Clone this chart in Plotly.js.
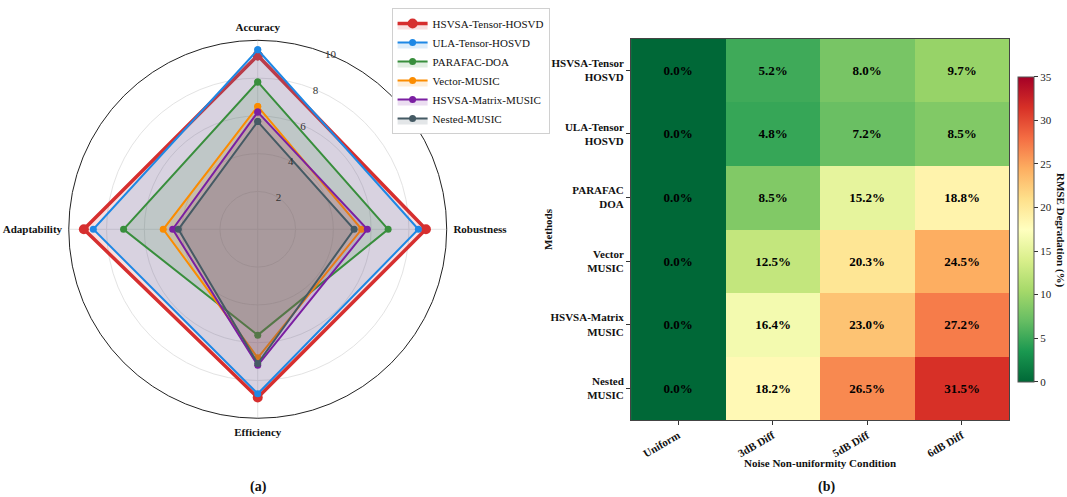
<!DOCTYPE html>
<html>
<head>
<meta charset="utf-8">
<script src="https://cdn.plot.ly/plotly-3.0.1.min.js"></script>
<style>
  html, body { margin: 0; padding: 0; background: #fff; }
  #chart { width: 1067px; height: 497px; }
</style>
</head>
<body>
<div id="chart"></div>
<script>
// Radar chart: performance scores per method on four criteria
const criteria = ['Accuracy', 'Robustness', 'Efficiency', 'Adaptability'];
const methods = ['HSVSA-Tensor-HOSVD', 'ULA-Tensor-HOSVD', 'PARAFAC-DOA', 'Vector-MUSIC', 'HSVSA-Matrix-MUSIC', 'Nested-MUSIC'];
const hsvsaTensorScores = [9.2, 8.9, 8.9, 9.2];
const ulaTensorScores = [9.5, 8.5, 8.7, 8.7];
const parafacScores = [7.8, 6.9, 5.6, 7.1];
const vectorMusicScores = [6.5, 5.5, 6.8, 5.0];
const hsvsaMatrixScores = [6.2, 5.8, 7.2, 4.5];
const nestedMusicScores = [5.7, 5.1, 7.1, 4.2];
const radialTicks = [2, 4, 6, 8, 10];

// Heatmap: RMSE degradation (%) under non-uniform noise
const conditions = ['Uniform', '3dB Diff', '5dB Diff', '6dB Diff'];
const methodLabels = ['HSVSA-Tensor<br>HOSVD', 'ULA-Tensor<br>HOSVD', 'PARAFAC<br>DOA', 'Vector<br>MUSIC', 'HSVSA-Matrix<br>MUSIC', 'Nested<br>MUSIC'];
const degradation = [
  [0.0, 5.2, 8.0, 9.7],
  [0.0, 4.8, 7.2, 8.5],
  [0.0, 8.5, 15.2, 18.8],
  [0.0, 12.5, 20.3, 24.5],
  [0.0, 16.4, 23.0, 27.2],
  [0.0, 18.2, 26.5, 31.5]
];
const colorbarTicks = [0, 5, 10, 15, 20, 25, 30, 35];

const SERIF = 'Liberation Serif, Times New Roman, serif';
const colors = ['#d62f2f', '#1e88e5', '#388e3c', '#fb8c00', '#7b1fa2', '#455a64'];
const fills = ['rgba(214,47,47,0.15)', 'rgba(30,136,229,0.15)', 'rgba(56,142,60,0.15)',
               'rgba(251,140,0,0.15)', 'rgba(123,31,162,0.15)', 'rgba(69,90,100,0.15)'];
const scoreSets = [hsvsaTensorScores, ulaTensorScores, parafacScores, vectorMusicScores, hsvsaMatrixScores, nestedMusicScores];

const closeLoop = arr => arr.concat([arr[0]]);

const traces = methods.map((name, i) => {
  const lead = i === 0;
  return {
    type: 'scatterpolar',
    r: closeLoop(scoreSets[i]),
    theta: closeLoop(criteria),
    name: name,
    mode: 'lines+markers',
    fill: 'toself',
    fillcolor: fills[i],
    line: { color: colors[i], width: lead ? 3.5 : 2 },
    marker: { color: colors[i], size: lead ? 10 : 7 }
  };
});

// RdYlGn reversed
const rdYlGnR = [
  [0.0, '#006837'], [0.1, '#1a9850'], [0.2, '#66bd63'], [0.3, '#a6d96a'],
  [0.4, '#d9ef8b'], [0.5, '#ffffbf'], [0.6, '#fee08b'], [0.7, '#fdae61'],
  [0.8, '#f46d43'], [0.9, '#d73027'], [1.0, '#a50026']
];

traces.push({
  type: 'heatmap',
  x: conditions,
  y: methodLabels,
  z: degradation,
  xaxis: 'x',
  yaxis: 'y',
  zmin: 0,
  zmax: 35,
  colorscale: rdYlGnR,
  showlegend: false,
  hoverinfo: 'skip',
  texttemplate: '%{z:.1f}%',
  textfont: { family: SERIF, size: 13, color: '#000', weight: 'bold' },
  colorbar: {
    x: 0.9538, xanchor: 'left',
    y: 0.5388, yanchor: 'middle',
    len: 0.614, lenmode: 'fraction',
    thickness: 16,
    xpad: 0, ypad: 0,
    outlinewidth: 1, outlinecolor: '#555',
    ticks: 'outside', ticklen: 4, tickcolor: '#333',
    tickvals: colorbarTicks,
    tickfont: { family: SERIF, size: 11, color: '#222' }
  }
});

const layout = {
  width: 1067,
  height: 497,
  margin: { l: 0, r: 0, t: 0, b: 0, autoexpand: false },
  paper_bgcolor: '#fff',
  plot_bgcolor: '#fff',
  font: { family: SERIF, color: '#111' },
  showlegend: true,
  legend: {
    x: 0.367, y: 0.984, xanchor: 'left', yanchor: 'top',
    bgcolor: '#fff', bordercolor: '#d0d0d0', borderwidth: 1,
    font: { family: SERIF, size: 11, color: '#111' },
    itemwidth: 30,
    tracegroupgap: 0
  },
  polar: {
    domain: { x: [0.0644, 0.4187], y: [0.1584, 0.9189] },
    bgcolor: 'rgba(0,0,0,0)',
    angularaxis: {
      rotation: 90,
      direction: 'clockwise',
      showline: true, linecolor: '#222', linewidth: 1,
      gridcolor: '#e3e3e3', gridwidth: 1,
      ticks: 'outside', ticklen: 4, tickcolor: 'rgba(0,0,0,0)',
      tickfont: { family: SERIF, size: 11, color: '#111', weight: 'bold' }
    },
    radialaxis: {
      range: [0, 10],
      tickvals: radialTicks,
      angle: 71,
      tickangle: 71,
      showline: false,
      ticks: '',
      gridcolor: '#e3e3e3', gridwidth: 1,
      tickfont: { family: SERIF, size: 11, color: '#333' }
    }
  },
  xaxis: {
    domain: [0.5914, 0.9457],
    anchor: 'y',
    tickangle: -30,
    ticks: 'outside', ticklen: 4, tickcolor: '#333',
    showline: true, mirror: true, linecolor: '#444', linewidth: 1,
    tickfont: { family: SERIF, size: 11, color: '#111', weight: 'bold' },
    showgrid: false, zeroline: false
  },
  yaxis: {
    domain: [0.1549, 0.9225],
    anchor: 'x',
    autorange: 'reversed',
    ticks: 'outside', ticklen: 4, tickcolor: '#333',
    showline: true, mirror: true, linecolor: '#444', linewidth: 1,
    tickfont: { family: SERIF, size: 11, color: '#111', weight: 'bold' },
    showgrid: false, zeroline: false
  },
  annotations: [
    { text: 'Noise Non-uniformity Condition', xref: 'paper', yref: 'paper',
      x: 0.7685, y: 1 - 463 / 497, xanchor: 'center', yanchor: 'middle', showarrow: false,
      font: { family: SERIF, size: 11, color: '#111', weight: 'bold' } },
    { text: 'Methods', xref: 'paper', yref: 'paper', textangle: -90,
      x: 548 / 1067, y: 1 - 229 / 497, xanchor: 'center', yanchor: 'middle', showarrow: false,
      font: { family: SERIF, size: 11, color: '#111', weight: 'bold' } },
    { text: 'RMSE Degradation (%)', xref: 'paper', yref: 'paper', textangle: 90,
      x: 1060 / 1067, y: 1 - 230 / 497, xanchor: 'center', yanchor: 'middle', showarrow: false,
      font: { family: SERIF, size: 11, color: '#111', weight: 'bold' } },
    { text: '(a)', xref: 'paper', yref: 'paper',
      x: 258 / 1067, y: 1 - 487 / 497, xanchor: 'center', yanchor: 'middle', showarrow: false,
      font: { family: SERIF, size: 14, color: '#111', weight: 'bold' } },
    { text: '(b)', xref: 'paper', yref: 'paper',
      x: 826 / 1067, y: 1 - 487 / 497, xanchor: 'center', yanchor: 'middle', showarrow: false,
      font: { family: SERIF, size: 14, color: '#111', weight: 'bold' } }
  ]
};

Plotly.newPlot('chart', traces, layout, { displayModeBar: false, staticPlot: true });
</script>
</body>
</html>
